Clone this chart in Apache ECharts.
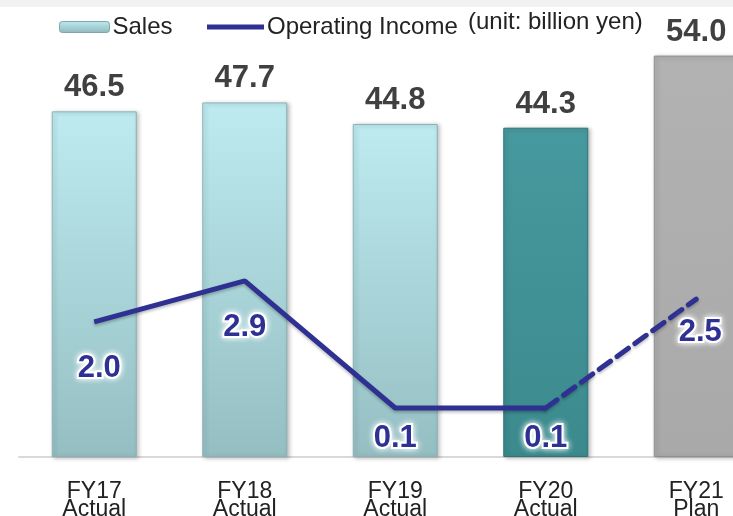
<!DOCTYPE html>
<html><head><meta charset="utf-8">
<script src="https://cdn.jsdelivr.net/npm/echarts@6/dist/echarts.min.js"></script>
<style>html,body{margin:0;padding:0;background:#fff}#c{width:733px;height:516px}</style>
</head><body><div id="c"></div>
<script>
const categories = ['FY17\nActual','FY18\nActual','FY19\nActual','FY20\nActual','FY21\nPlan'];
const sales = [46.5, 47.7, 44.8, 44.3, 54.0];
const opIncomeActual = [2.0, 2.9, 0.1, 0.1, null];
const opIncomePlan = [null, null, null, 0.1, 2.5];
const opIncomeLabels = [2.0, 2.9, 0.1, 0.1, 2.5];

const FONT = '"Liberation Sans",Arial,sans-serif';
function grad(a,b){return new echarts.graphic.LinearGradient(0,0,0,1,[{offset:0,color:a},{offset:1,color:b}]);}
const barStyles = [
  {color:grad('#BDEBF0','#95BEC2'), borderColor:'#8AB2B6'},
  {color:grad('#BDEBF0','#95BEC2'), borderColor:'#8AB2B6'},
  {color:grad('#BDEBF0','#95BEC2'), borderColor:'#8AB2B6'},
  {color:grad('#46999E','#3B8A8E'), borderColor:'#2F7478'},
  {color:grad('#B2B2B2','#A9A9A9'), borderColor:'#8F8F8F'}
];
// label offsets for op income [dx, dy] relative to point
const opLabelOffsets = [[5,47],[0,46],[0,30],[0,30],[4,33]];
const actualShow = [true,true,true,true,false];

const chart = echarts.init(document.getElementById('c'));
const opLabelStyle = {
  show:true, color:'#2E3192', fontWeight:'bold', fontSize:31, fontFamily:FONT,
  textBorderColor:'#fff', textBorderWidth:4, textShadowColor:'#fff', textShadowBlur:6
};
function lbl(i){return Object.assign({}, opLabelStyle, {position:'inside', offset:opLabelOffsets[i], formatter: opIncomeLabels[i].toFixed(1)});}
const legendText = {fontSize:24, fontFamily:FONT, color:'#222', padding:[0,0,0,-2]};
chart.setOption({
  animation:false,
  backgroundColor:'#fff',
  grid:{left:19, right:-38.5, top:11, height:446, outerBoundsMode:'none', containLabel:false},
  legend:[
    {
      left:54, top:10, itemWidth:50, itemHeight:11,
      textStyle:legendText,
      data:[{name:'Sales', itemStyle:{color:grad('#BDEBF0','#8FB8BC'), borderColor:'#7FA7AB', borderWidth:1}}]
    },
    {
      left:202, top:10, itemWidth:57, itemHeight:11,
      textStyle:legendText,
      data:[{name:'Operating Income', icon:'path://M0,3 L57,3 L57,8 L0,8 Z', itemStyle:{color:'#2E3192'}}]
    }
  ],
  graphic:[
    {type:'rect', shape:{x:0,y:0,width:733,height:7}, style:{fill:'#F2F2F2'}},
    {type:'text', left:468, top:10, style:{text:'(unit: billion yen)', font:'24px '+FONT, fill:'#222'}}
  ],
  xAxis:{
    type:'category', data:categories,
    axisLine:{lineStyle:{color:'#D9D9D9', width:2}},
    axisTick:{show:false},
    axisLabel:{fontSize:23, fontFamily:FONT, color:'#222', lineHeight:18, margin:26, interval:0}
  },
  yAxis:[
    {type:'value', min:0, max:60, show:false},
    {type:'value', min:-0.98, max:8.85, show:false}
  ],
  series:[
    {
      name:'Sales', type:'bar', barWidth:85, yAxisIndex:0,
      data: sales.map((v,i)=>({value:v, itemStyle:Object.assign({borderWidth:1, shadowColor:'rgba(0,0,0,0.25)', shadowBlur:4, shadowOffsetX:2, shadowOffsetY:1}, barStyles[i])})),
      label:{show:true, position:'top', distance:8, fontSize:31, fontWeight:'bold', fontFamily:FONT, color:'#404040', formatter:p=>p.value.toFixed(1)}
    },
    {
      name:'Operating Income', type:'line', yAxisIndex:1,
      symbol:'circle', symbolSize:1, showSymbol:true,
      itemStyle:{color:'#2E3192'},
      lineStyle:{color:'#2E3192', width:5, shadowColor:'rgba(0,0,0,0.25)', shadowBlur:3, shadowOffsetY:2},
      data: opIncomeActual.map((v,i)=> v===null ? null : {value:v, label: actualShow[i] ? lbl(i) : {show:false}}),
      z:5
    },
    {
      name:'Operating Income Plan', type:'line', yAxisIndex:1,
      symbol:'circle', symbolSize:1, showSymbol:true,
      itemStyle:{color:'#2E3192'},
      lineStyle:{color:'#2E3192', width:5, type:[14,8], cap:'round', shadowColor:'rgba(0,0,0,0.25)', shadowBlur:3, shadowOffsetY:2},
      data: opIncomePlan.map((v,i)=> v===null ? null : {value:v, label: i===4 ? lbl(i) : {show:false}}),
      z:5
    }
  ]
});
</script></body></html>
